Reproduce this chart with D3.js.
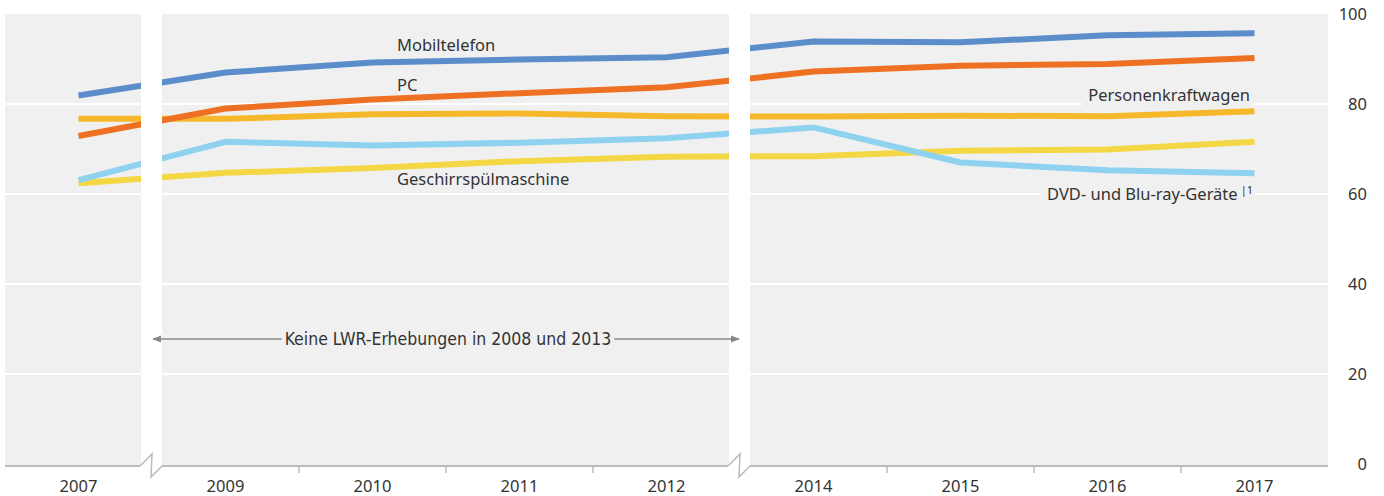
<!DOCTYPE html>
<html>
<head>
<meta charset="utf-8">
<script src="https://cdn.jsdelivr.net/npm/d3@7"></script>
<style>
  body { margin: 0; background: #fff; }
  svg text { font-family: "Noto Sans", "Open Sans", sans-serif; fill: #333; }
</style>
</head>
<body>
<div id="chart"></div>
<script>
// categories (2008 and 2013 have no survey)
const years = ["2007", "2009", "2010", "2011", "2012", "2014", "2015", "2016", "2017"];
const yTicks = [0, 20, 40, 60, 80, 100];

// series values, percent of households
const mobiltelefon = [81.9, 87.0, 89.2, 89.9, 90.4, 93.9, 93.7, 95.3, 95.7];
const pc = [72.9, 79.0, 81.0, 82.4, 83.7, 87.2, 88.5, 88.9, 90.2];
const pkw = [76.7, 76.7, 77.7, 77.9, 77.3, 77.2, 77.4, 77.3, 78.4];
const dvd = [63.1, 71.6, 70.8, 71.4, 72.4, 74.8, 67.0, 65.3, 64.6];
const geschirr = [62.4, 64.7, 65.8, 67.3, 68.3, 68.4, 69.6, 69.9, 71.6];

const series = [
  { name: "Personenkraftwagen", values: pkw, color: "#f6b82b" },
  { name: "Geschirrspülmaschine", values: geschirr, color: "#f3d744" },
  { name: "DVD- und Blu-ray-Geräte", values: dvd, color: "#8fd2f0" },
  { name: "PC", values: pc, color: "#ee7123" },
  { name: "Mobiltelefon", values: mobiltelefon, color: "#5b8dcb" }
];

const width = 1384, height = 496;
const plot = { left: 5, right: 1328, top: 14, bottom: 464 };

const svg = d3.select("#chart").append("svg")
  .attr("width", width)
  .attr("height", height);

const x = d3.scalePoint().domain(years).range([plot.left, plot.right]).padding(0.5);
const y = d3.scaleLinear().domain([0, 100]).range([plot.bottom, plot.top]);

// plot background
svg.append("rect")
  .attr("x", plot.left).attr("y", plot.top)
  .attr("width", plot.right - plot.left).attr("height", plot.bottom - plot.top + 2)
  .attr("fill", "#f0f0f0");

// gridlines
svg.append("g").selectAll("line")
  .data(yTicks.filter(d => d > 0 && d < 100))
  .join("line")
  .attr("x1", plot.left).attr("x2", plot.right)
  .attr("y1", d => y(d)).attr("y2", d => y(d))
  .attr("stroke", "#fff").attr("stroke-width", 2);

// y axis labels on the right
svg.append("g").selectAll("text")
  .data(yTicks)
  .join("text")
  .attr("x", 1367)
  .attr("y", d => y(d))
  .attr("dy", "0.35em")
  .attr("text-anchor", "end")
  .attr("font-size", 16.5)
  .text(d => d);

// lines
const line = d3.line()
  .x((d, i) => x(years[i]))
  .y(d => y(d));

svg.append("g").selectAll("path")
  .data(series)
  .join("path")
  .attr("d", d => line(d.values))
  .attr("fill", "none")
  .attr("stroke", d => d.color)
  .attr("stroke-width", 6)
  .attr("stroke-linejoin", "round");

// breaks for the missing years
const breaks = [(x("2007") + x("2009")) / 2, (x("2012") + x("2014")) / 2];
svg.append("g").selectAll("rect")
  .data(breaks)
  .join("rect")
  .attr("x", d => d - 11).attr("y", plot.top)
  .attr("width", 21).attr("height", plot.bottom - plot.top + 4)
  .attr("fill", "#fff");

// x axis line with break marks
const axisY = plot.bottom + 2;
const seg = [plot.left, ...breaks.flatMap(b => [b - 12, b + 10]), plot.right];
const axisG = svg.append("g").attr("stroke", "#bbb").attr("fill", "none").attr("stroke-width", 2);
for (let i = 0; i < seg.length; i += 2) {
  axisG.append("line").attr("x1", seg[i]).attr("x2", seg[i + 1]).attr("y1", axisY).attr("y2", axisY);
}
axisG.selectAll("path")
  .data(breaks)
  .join("path")
  .attr("stroke-width", 1.5)
  .attr("d", b => `M${b - 12},${axisY} L${b},${axisY - 12} L${b - 1},${axisY + 11} L${b + 10},${axisY}`);

// small ticks between categories (not at the breaks)
const tickPos = d3.pairs(years)
  .map(([a, b]) => (x(a) + x(b)) / 2)
  .filter(p => !breaks.some(b => Math.abs(b - p) < 1));
svg.append("g").selectAll("line")
  .data(tickPos)
  .join("line")
  .attr("x1", d => d).attr("x2", d => d)
  .attr("y1", axisY).attr("y2", axisY + 7)
  .attr("stroke", "#bbb").attr("stroke-width", 1.5);

// x labels
svg.append("g").selectAll("text")
  .data(years)
  .join("text")
  .attr("x", d => x(d))
  .attr("y", 492)
  .attr("text-anchor", "middle")
  .attr("font-size", 16.5)
  .text(d => d);

// series labels
const labelG = svg.append("g").attr("font-size", 16.5);
labelG.append("text").attr("x", 397).attr("y", y(mobiltelefon[3]) - 8).text("Mobiltelefon");
labelG.append("text").attr("x", 397).attr("y", y(pc[3]) - 2).text("PC");
labelG.append("text").attr("x", 397).attr("y", y(geschirr[3]) + 24).text("Geschirrspülmaschine");

// right-side labels with background boxes over the gridlines
function boxedLabel(txt, sup, xEnd, yBase) {
  const g = svg.append("g");
  const bg = g.append("rect").attr("fill", "#f0f0f0");
  const t = g.append("text")
    .attr("x", xEnd).attr("y", yBase)
    .attr("text-anchor", "end")
    .attr("font-size", 16.5);
  t.append("tspan").text(txt);
  if (sup) {
    t.append("tspan").attr("font-size", 11).attr("dx", 3).attr("dy", -6).text(sup);
  }
  const bb = t.node().getBBox();
  bg.attr("x", bb.x - 6).attr("y", bb.y).attr("width", bb.width + 8).attr("height", bb.height);
}
boxedLabel("Personenkraftwagen", null, 1250, 101);
boxedLabel("DVD- und Blu-ray-Geräte", "|1", 1253, 200);

// annotation for the missing survey years
const noteY = 339;
svg.append("defs").append("marker")
  .attr("id", "arr")
  .attr("viewBox", "0 0 10 10")
  .attr("refX", 9).attr("refY", 5)
  .attr("markerWidth", 6).attr("markerHeight", 6)
  .attr("orient", "auto-start-reverse")
  .append("path").attr("d", "M0,1 L10,5 L0,9 Z").attr("fill", "#888");

const note = svg.append("text")
  .attr("x", 448)
  .attr("y", noteY)
  .attr("dy", "0.35em")
  .attr("text-anchor", "middle")
  .attr("font-size", 17.5)
  .style("font-family", "'Liberation Sans Narrow', 'DejaVu Sans Condensed', sans-serif")
  .text("Keine LWR-Erhebungen in 2008 und 2013");
const nb = note.node().getBBox();
svg.append("line")
  .attr("x1", nb.x - 3).attr("x2", breaks[0] + 1)
  .attr("y1", noteY).attr("y2", noteY)
  .attr("stroke", "#888").attr("stroke-width", 1.5)
  .attr("marker-end", "url(#arr)");
svg.append("line")
  .attr("x1", nb.x + nb.width + 3).attr("x2", breaks[1] - 1)
  .attr("y1", noteY).attr("y2", noteY)
  .attr("stroke", "#888").attr("stroke-width", 1.5)
  .attr("marker-end", "url(#arr)");
</script>
</body>
</html>
